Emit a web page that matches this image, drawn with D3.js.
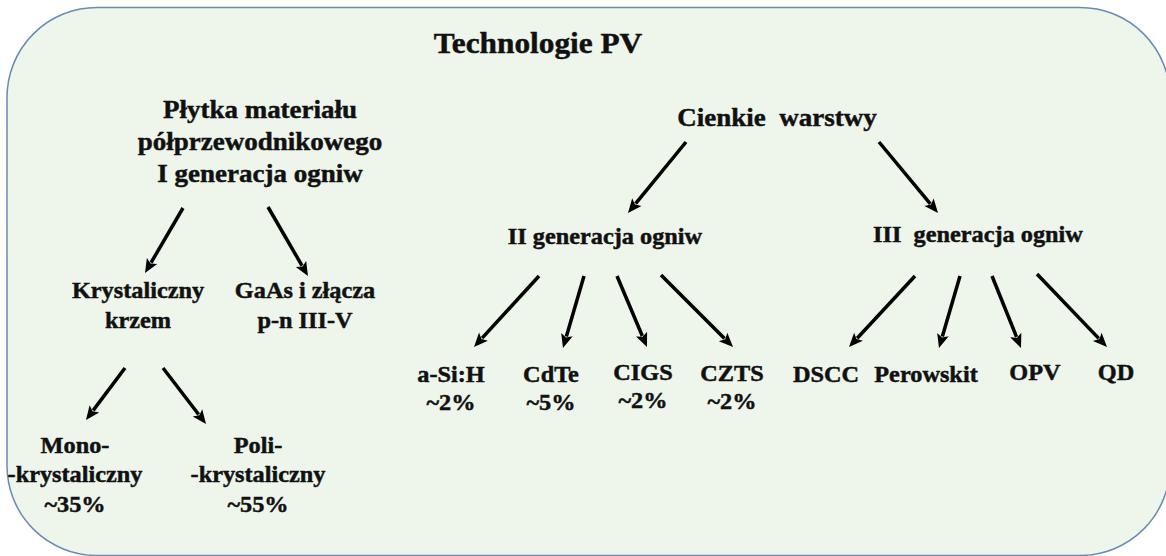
<!DOCTYPE html>
<html>
<head>
<meta charset="utf-8">
<script src="https://cdn.jsdelivr.net/npm/d3@7"></script>
<style>
  html, body { margin: 0; padding: 0; background: #fff; }
  svg { display: block; }
  .lbl { font-family: "Liberation Serif", "Times New Roman", serif; font-weight: bold; fill: #111; stroke: #111; stroke-width: 0.45px; }
</style>
</head>
<body>
<div id="chart"></div>
<script>
// tree content
const title = "Technologie PV";
const nodeIds = ["plytka", "cienkie", "kryst", "gaas", "gen2", "gen3",
  "mono", "poli", "asih", "cdte", "cigs", "czts", "dscc", "perow", "opv", "qd"];
const nodeLabels = [
  ["Płytka materiału", "półprzewodnikowego", "I generacja ogniw"],
  ["Cienkie  warstwy"],
  ["Krystaliczny", "krzem"],
  ["GaAs i złącza", "p-n III-V"],
  ["II generacja ogniw"],
  ["III  generacja ogniw"],
  ["Mono-", "-krystaliczny", "~35%"],
  ["Poli-", "-krystaliczny", "~55%"],
  ["a-Si:H", "~2%"],
  ["CdTe", "~5%"],
  ["CIGS", "~2%"],
  ["CZTS", "~2%"],
  ["DSCC"],
  ["Perowskit"],
  ["OPV"],
  ["QD"]
];
const edges = [
  ["plytka", "kryst"], ["plytka", "gaas"],
  ["kryst", "mono"], ["kryst", "poli"],
  ["cienkie", "gen2"], ["cienkie", "gen3"],
  ["gen2", "asih"], ["gen2", "cdte"], ["gen2", "cigs"], ["gen2", "czts"],
  ["gen3", "dscc"], ["gen3", "perow"], ["gen3", "opv"], ["gen3", "qd"]
];

// layout (design space 1166 x 556): text anchor = centre x, first baseline y, line step
const nodePos = {
  plytka: [260, 118, 32], cienkie: [777, 126, 0], kryst: [138, 298, 30], gaas: [305, 298, 30],
  gen2: [605, 244, 0], gen3: [978, 242, 0],
  mono: [75, 453, 29.5], poli: [258, 453, 29.5],
  asih: [451, 382, 28], cdte: [551, 382, 28], cigs: [643, 380, 28], czts: [732, 381, 28],
  dscc: [826, 382, 0], perow: [926, 382, 0], opv: [1035, 380, 0], qd: [1116, 380, 0]
};
const nodeSize = { plytka: 25, cienkie: 25 };
// arrow start / tip per edge
const arrowPos = [
  [183, 208, 145, 273], [268, 207, 308, 276],
  [125, 368, 86, 420], [163, 368, 206, 424],
  [686, 142, 628, 213], [879, 142, 938, 213],
  [539, 276, 474, 347], [584, 276, 563, 348], [617, 276, 647, 347], [661, 275, 733, 347],
  [915, 276, 849, 347], [960, 276, 939, 348], [992, 276, 1021, 348], [1037, 274, 1107, 347]
];

const W = 1166, H = 556;
const x = d3.scaleLinear().domain([0, 1166]).range([0, W]);
const y = d3.scaleLinear().domain([0, 556]).range([0, H]);
const stretch = 1.08;

const svg = d3.select("#chart").append("svg")
  .attr("width", W)
  .attr("height", H);

svg.append("rect")
  .attr("x", x(7)).attr("y", y(7.5))
  .attr("width", x(1170) - x(7)).attr("height", y(555.5) - y(7.5))
  .attr("rx", 90).attr("ry", 90)
  .attr("fill", "#eef6ec")
  .attr("stroke", "#6a8bb2")
  .attr("stroke-width", 1.5);

svg.append("text")
  .attr("class", "lbl")
  .attr("text-anchor", "middle")
  .attr("font-size", 29)
  .attr("transform", `translate(${x(538)},${y(53)}) scale(${stretch},1)`)
  .text(title);

const nodes = nodeIds.map((id, i) => ({ id: id, lines: nodeLabels[i] }));

const nodeG = svg.selectAll(".node")
  .data(nodes)
  .enter()
  .append("text")
  .attr("class", "lbl node")
  .attr("text-anchor", "middle")
  .attr("font-size", d => nodeSize[d.id] || 22.5)
  .attr("transform", d => `translate(${x(nodePos[d.id][0])},${y(nodePos[d.id][1])}) scale(${stretch},1)`);

nodeG.selectAll("tspan")
  .data(d => d.lines.map((l, i) => ({ text: l, i: i, lh: nodePos[d.id][2] })))
  .enter()
  .append("tspan")
  .attr("x", 0)
  .attr("y", d => d.i * d.lh)
  .style("white-space", "pre")
  .text(d => d.text);

// arrows
const headLen = 14, headW = 12;
const arrows = svg.append("g").attr("class", "arrows");
edges.forEach((e, i) => {
  const [x1, y1, x2, y2] = arrowPos[i];
  const sx = x(x1), sy = y(y1), tx = x(x2), ty = y(y2);
  const ang = Math.atan2(ty - sy, tx - sx);
  const ux = Math.cos(ang), uy = Math.sin(ang);
  const bx = tx - ux * (headLen - 2), by = ty - uy * (headLen - 2);
  arrows.append("line")
    .attr("x1", sx).attr("y1", sy)
    .attr("x2", bx).attr("y2", by)
    .attr("stroke", "#000")
    .attr("stroke-width", 3.5);
  const hx = tx - ux * headLen, hy = ty - uy * headLen;
  const px = -uy * headW / 2, py = ux * headW / 2;
  arrows.append("path")
    .attr("d", `M${tx},${ty}L${hx + px},${hy + py}L${hx + ux * 3},${hy + uy * 3}L${hx - px},${hy - py}Z`)
    .attr("fill", "#000");
});
</script>
</body>
</html>
